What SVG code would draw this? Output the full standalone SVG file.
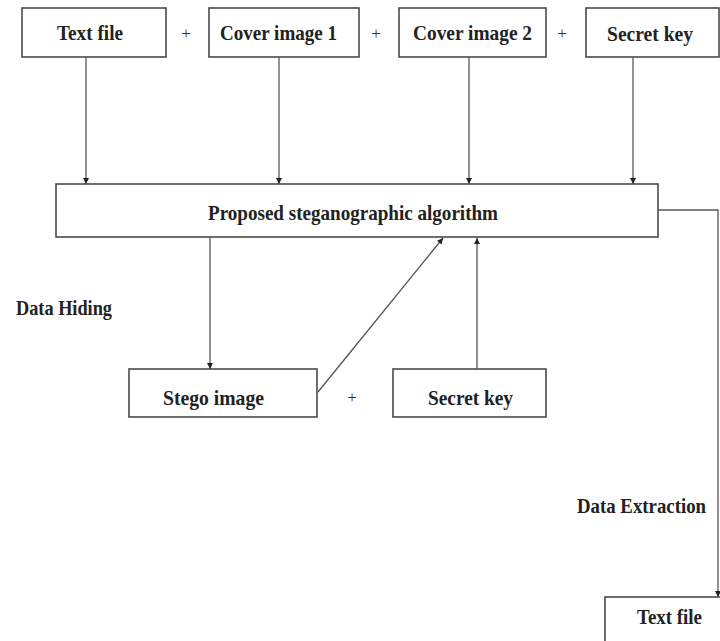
<svg xmlns="http://www.w3.org/2000/svg" width="720" height="641" viewBox="0 0 720 641">
  <style>
    .box { fill: #ffffff; stroke: #4a4a4a; stroke-width: 1.6; }
    .lbl { font-family: "Liberation Serif", "Times New Roman", serif; font-weight: bold; font-size: 22px; fill: #222222; }
    .plus { font-family: "Liberation Serif", "Times New Roman", serif; font-size: 17px; fill: #333333; text-anchor: middle; }
    .wire { fill: none; stroke: #555555; stroke-width: 1.3; }
  </style>
  <defs>
    <marker id="arrow" viewBox="0 0 10 10" refX="10" refY="5" markerWidth="7" markerHeight="6" orient="auto" markerUnits="userSpaceOnUse">
      <path d="M0,0 L10,5 L0,10 z" fill="#222222"/>
    </marker>
  </defs>
  <rect width="720" height="641" fill="#ffffff"/>

  <!-- inputs -->
  <g id="text-file-in">
    <rect class="box" x="22" y="8" width="144" height="49"/>
    <text class="lbl" x="57" y="40" textLength="66" lengthAdjust="spacingAndGlyphs">Text file</text>
  </g>
  <g id="cover-image-1">
    <rect class="box" x="209" y="8" width="150" height="49"/>
    <text class="lbl" x="220" y="40" textLength="117" lengthAdjust="spacingAndGlyphs">Cover image 1</text>
  </g>
  <g id="cover-image-2">
    <rect class="box" x="399" y="8" width="147" height="49"/>
    <text class="lbl" x="413" y="40" textLength="119" lengthAdjust="spacingAndGlyphs">Cover image 2</text>
  </g>
  <g id="secret-key-in">
    <rect class="box" x="586" y="8" width="133" height="49"/>
    <text class="lbl" x="607" y="41" textLength="86" lengthAdjust="spacingAndGlyphs">Secret key</text>
  </g>
  <text class="plus" x="186" y="39">+</text>
  <text class="plus" x="376" y="39">+</text>
  <text class="plus" x="562" y="39">+</text>

  <!-- core -->
  <g id="algorithm">
    <rect class="box" x="56" y="184" width="602" height="53"/>
    <text class="lbl" x="208" y="220" textLength="290" lengthAdjust="spacingAndGlyphs">Proposed steganographic algorithm</text>
  </g>

  <!-- hiding side -->
  <g id="stego-image">
    <rect class="box" x="129" y="369" width="188" height="48"/>
    <text class="lbl" x="163" y="405" textLength="101" lengthAdjust="spacingAndGlyphs">Stego image</text>
  </g>
  <g id="secret-key-out">
    <rect class="box" x="393" y="369" width="153" height="48"/>
    <text class="lbl" x="428" y="405" textLength="85" lengthAdjust="spacingAndGlyphs">Secret key</text>
  </g>
  <text class="plus" x="352" y="403">+</text>

  <!-- extraction side -->
  <g id="text-file-out">
    <rect class="box" x="605" y="597" width="125" height="48"/>
    <text class="lbl" x="637" y="624" textLength="65" lengthAdjust="spacingAndGlyphs">Text file</text>
  </g>

  <text class="lbl" x="16" y="315" textLength="96" lengthAdjust="spacingAndGlyphs">Data Hiding</text>
  <text class="lbl" x="577" y="513" textLength="129" lengthAdjust="spacingAndGlyphs">Data Extraction</text>

  <g id="connectors">
    <line class="wire" x1="86" y1="57" x2="86" y2="184" marker-end="url(#arrow)"/>
    <line class="wire" x1="279" y1="57" x2="279" y2="184" marker-end="url(#arrow)"/>
    <line class="wire" x1="469" y1="57" x2="469" y2="184" marker-end="url(#arrow)"/>
    <line class="wire" x1="633" y1="57" x2="633" y2="184" marker-end="url(#arrow)"/>
    <line class="wire" x1="210" y1="237" x2="210" y2="369" marker-end="url(#arrow)"/>
    <line class="wire" x1="318" y1="392" x2="443" y2="238" marker-end="url(#arrow)"/>
    <line class="wire" x1="477" y1="369" x2="477" y2="238" marker-end="url(#arrow)"/>
    <polyline class="wire" points="658,210 718,210 718,597" marker-end="url(#arrow)"/>
  </g>
</svg>
